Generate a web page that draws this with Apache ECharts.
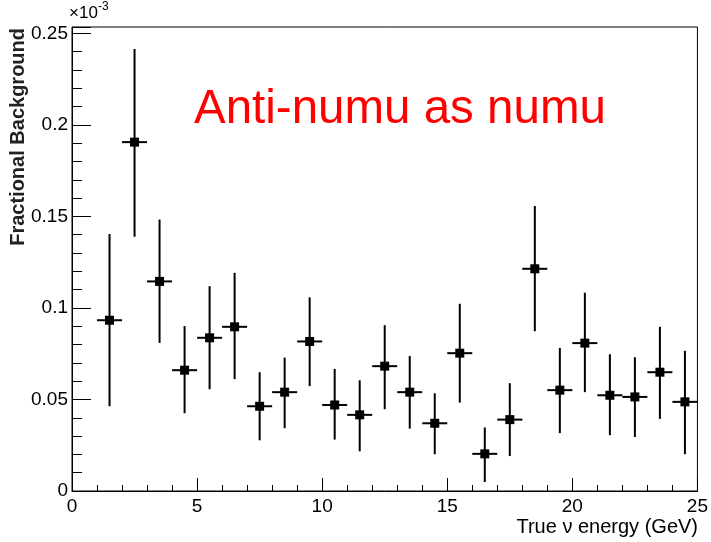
<!DOCTYPE html>
<html>
<head>
<meta charset="utf-8">
<script src="https://cdn.jsdelivr.net/npm/echarts@6/dist/echarts.min.js"></script>
<style>
  html, body { margin: 0; padding: 0; background: #fff; }
  #chart { width: 711px; height: 542px; }
</style>
</head>
<body>
<div id="chart"></div>
<script>
// ---- Data (values in units of 10^-3) ----
const binCenters = [1.5, 2.5, 3.5, 4.5, 5.5, 6.5, 7.5, 8.5, 9.5, 10.5, 11.5, 12.5,
                    13.5, 14.5, 15.5, 16.5, 17.5, 18.5, 19.5, 20.5, 21.5, 22.5, 23.5, 24.5];
const binHalfWidth = 0.5;
const values = [0.0933, 0.1906, 0.1145, 0.0660, 0.0837, 0.0897, 0.0463, 0.0540,
                0.0817, 0.0470, 0.0416, 0.0682, 0.0540, 0.0370, 0.0753, 0.0203,
                0.0390, 0.1214, 0.0551, 0.0808, 0.0523, 0.0514, 0.0649, 0.0487];
const upperEdges = [0.1404, 0.2415, 0.1483, 0.0901, 0.1119, 0.1192, 0.0649, 0.0729,
                    0.1058, 0.0667, 0.0605, 0.0906, 0.0738, 0.0534, 0.1023, 0.0347,
                    0.0589, 0.1557, 0.0782, 0.1083, 0.0747, 0.0731, 0.0897, 0.0766];
const lowerEdges = [0.0463, 0.1389, 0.0809, 0.0425, 0.0556, 0.0611, 0.0277, 0.0343,
                    0.0573, 0.0281, 0.0217, 0.0447, 0.0341, 0.0201, 0.0483, 0.0049,
                    0.0191, 0.0873, 0.0316, 0.0540, 0.0305, 0.0295, 0.0394, 0.0201];
const xTickValues = [0, 5, 10, 15, 20, 25];
const yTickValues = [0, 0.05, 0.1, 0.15, 0.2, 0.25];

const xTitle = 'True \u03bd energy (GeV)';
const yTitle = 'Fractional Background';
const annotation = 'Anti-numu as numu';

const seriesData = binCenters.map((c, i) => [c, values[i], lowerEdges[i], upperEdges[i], binHalfWidth]);

const regular = "'Liberation Sans', Arial, sans-serif";

const chart = echarts.init(document.getElementById('chart'), null, { renderer: 'canvas' });

function fmtY(v) {
  const k = v / 0.05;
  if (Math.abs(k - Math.round(k)) > 1e-6) return '';
  return String(+v.toFixed(4));
}

const option = {
  backgroundColor: '#fff',
  animation: false,
  grid: {
    left: 72, right: 11, top: 27, bottom: 51,
    show: true, borderColor: '#000', borderWidth: 1, backgroundColor: 'transparent'
  },
  xAxis: {
    type: 'value', min: xTickValues[0], max: xTickValues[xTickValues.length - 1], interval: 5,
    axisLine: { show: true, lineStyle: { color: '#000', width: 1 } },
    axisTick: { show: true, inside: true, length: 13, lineStyle: { color: '#000', width: 1 } },
    minorTick: { show: true, splitNumber: 5, length: 6, lineStyle: { color: '#000', width: 1 } },
    splitLine: { show: false },
    axisLabel: { color: '#000', fontFamily: regular, fontSize: 19, margin: 6 }
  },
  yAxis: {
    type: 'value', min: yTickValues[0], max: 0.2535, interval: 0.05,
    axisLine: { show: true, lineStyle: { color: '#000', width: 1 } },
    axisTick: { show: true, inside: true, length: 19, lineStyle: { color: '#000', width: 1 } },
    minorTick: { show: true, splitNumber: 5, length: 10, lineStyle: { color: '#000', width: 1 } },
    splitLine: { show: false },
    axisLabel: { color: '#000', fontFamily: regular, fontSize: 19, margin: 4, formatter: fmtY }
  },
  graphic: [
    { type: 'text', x: 18, y: 28, rotation: Math.PI / 2,
      style: { text: yTitle, font: "bold 20px " + regular, fill: '#222', align: 'right', verticalAlign: 'middle' } },
    { type: 'text', x: 698, y: 527,
      style: { text: xTitle, font: "20px " + regular, fill: '#000', align: 'right', verticalAlign: 'middle' } },
    { type: 'text', x: 69, y: 13,
      style: { text: '\u00d710', font: "17px " + regular, fill: '#000', align: 'left', verticalAlign: 'middle' } },
    { type: 'text', x: 98, y: 7,
      style: { text: '-3', font: "12px " + regular, fill: '#000', align: 'left', verticalAlign: 'middle' } },
    { type: 'text', x: 194, y: 110,
      style: { text: annotation, font: "47.5px " + regular, fill: '#ff0000', align: 'left', verticalAlign: 'middle' } }
  ],
  series: [{
    type: 'custom',
    data: seriesData,
    encode: { x: 0, y: 1 },
    clip: false,
    renderItem: function (params, api) {
      const x = api.value(0), y = api.value(1), lo = api.value(2), hi = api.value(3), hw = api.value(4);
      const c = api.coord([x, y]);
      const pLo = api.coord([x, lo]);
      const pHi = api.coord([x, hi]);
      const pL = api.coord([x - hw, y]);
      const pR = api.coord([x + hw, y]);
      const s = 9;
      const st = { stroke: '#000', lineWidth: 2 };
      return {
        type: 'group',
        children: [
          { type: 'line', shape: { x1: pLo[0], y1: pLo[1], x2: pHi[0], y2: pHi[1] }, style: st },
          { type: 'line', shape: { x1: pL[0], y1: pL[1], x2: pR[0], y2: pR[1] }, style: st },
          { type: 'rect', shape: { x: c[0] - s / 2, y: c[1] - s / 2, width: s, height: s }, style: { fill: '#000' } }
        ]
      };
    }
  }]
};
chart.setOption(option);
</script>
</body>
</html>
